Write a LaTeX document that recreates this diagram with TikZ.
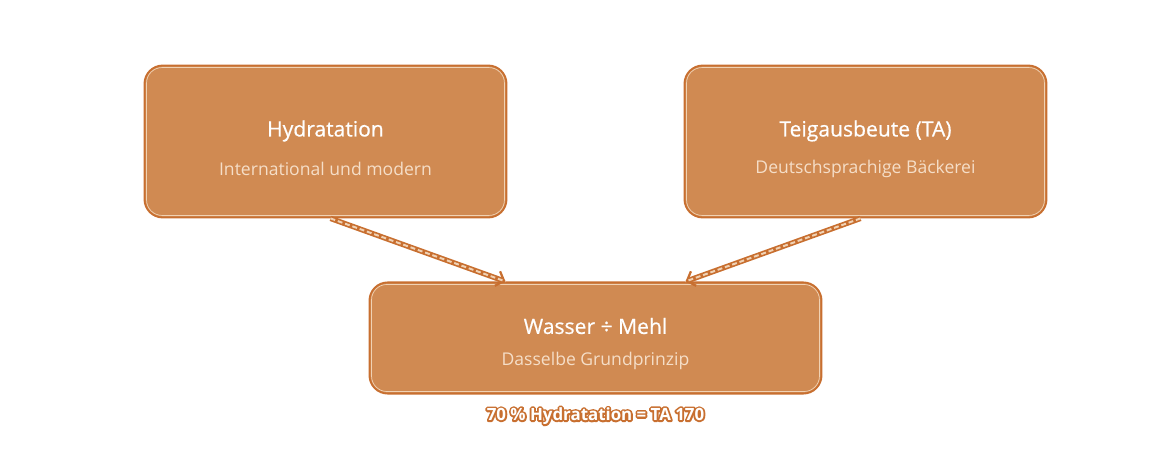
\documentclass[tikz,border=0pt]{standalone}
\usepackage{fontspec}
\setmainfont{Open Sans}
\usetikzlibrary{arrows.meta}
\definecolor{boxfill}{HTML}{D08A52}
\definecolor{boxline}{HTML}{C86F30}
\definecolor{boxlight}{HTML}{F0D2B4}
\definecolor{subtext}{HTML}{F5DEC8}
\newcommand{\halotext}[1]{\special{pdf:code 1 Tr 2.6 w 1 j}#1\special{pdf:code 0 Tr}}
\tikzset{
  card/.style={draw=boxline, line width=1.3pt, fill=boxfill, rounded corners=13pt, inner sep=0pt},
  title/.style={text=white, font=\fontsize{15}{18}\selectfont\addfontfeature{FakeBold=0.6}},
  subtitle/.style={text=subtext, font=\fontsize{12.5}{15}\selectfont},
  link/.style={draw=boxline, line width=3.8pt, -{Straight Barb[length=5pt,width=11pt,line width=1.6pt]},
    postaction={draw=boxlight, line width=1.4pt, dash pattern=on 3.5pt off 2pt, -}},
  notefont/.style={font=\bfseries\fontsize{12}{14}\selectfont},
}
\begin{document}
\begin{tikzpicture}[x=0.025cm, y=-0.025cm]
\useasboundingbox (0,0) rectangle (1159,464);
% Kaesten
\node[card, minimum width=9.05cm, minimum height=3.8cm] (hyd) at (325.5,141.5){};
\node[card, minimum width=9.05cm, minimum height=3.8cm] (ta) at (865.5,141.5){};
\node[card, minimum width=11.3cm, minimum height=2.78cm] (wm) at (595.5,338){};
\foreach \n in {hyd,ta,wm}
{
    \draw[boxlight, line width=.5pt, rounded corners=11pt] ([shift={(3,3)}]\n.north west) rectangle ([shift={(-3,-3)}]\n.south east);
}
\node[title] (hydT) at (325.5,131){Hydratation};
\node[subtitle] (hydS) at (325.5,169){International und modern};
\node[title] (taT) at (865.5,131){Teigausbeute (TA)};
\node[subtitle] (taS) at (865.5,169){Deutschsprachige Bäckerei};
\node[title] (wmT) at (595.5,326){Wasser ÷ Mehl};
\node[subtitle] (wmS) at (595.5,361){Dasselbe Grundprinzip};
% Pfeile
\draw[link] ([shift={(5,0)}]hyd.south) -- ([shift={(-90,0)}]wm.north);
\draw[link] ([shift={(-5,0)}]ta.south) -- ([shift={(90,0)}]wm.north);
% Beschriftung
\node[notefont, text=boxline] (noteHalo) at (595.5,416){\halotext{70 \% Hydratation = TA 170}};
\node[notefont, text=white] (note) at (595.5,416){70 \% Hydratation = TA 170};
\end{tikzpicture}
\end{document}
